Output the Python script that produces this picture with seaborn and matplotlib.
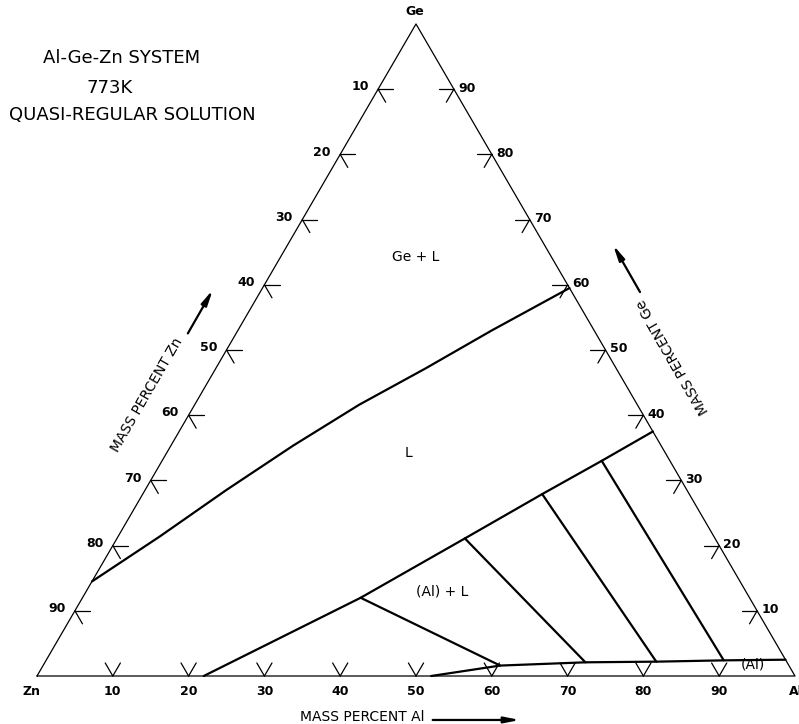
import numpy as np
import pandas as pd
import matplotlib.pyplot as plt
import seaborn as sns

# Al-Ge-Zn isothermal section, 773 K. Values are mass percent (Zn = balance).
tick_values = [10, 20, 30, 40, 50, 60, 70, 80, 90]

# Ge + L / L boundary
ge_l_al = [0.0, 5.5, 10.7, 16.1, 21.7, 27.7, 33.5, 40.5]
ge_l_ge = [14.5, 21.4, 28.5, 35.3, 41.6, 47.2, 53.0, 59.5]

# L / (Al) + L boundary (liquidus)
liq_al = [22.0, 36.7, 45.9, 52.7, 58.0, 62.5]
liq_ge = [0.0, 12.0, 21.1, 27.9, 33.0, 37.5]

# (Al) + L / (Al) boundary (solidus)
sol_al = [52.0, 60.3, 71.3, 80.6, 89.4, 97.5]
sol_ge = [0.0, 1.6, 2.1, 2.2, 2.4, 2.5]

# tie lines: liquidus end -> solidus end
tie_liq_al = [36.7, 45.9, 52.7, 58.0]
tie_liq_ge = [12.0, 21.1, 27.9, 33.0]
tie_sol_al = [60.3, 71.3, 80.6, 89.4]
tie_sol_ge = [1.6, 2.1, 2.2, 2.4]

H = np.sqrt(3) / 2


def tern(al, ge):
    """Mass percent Al, Ge -> cartesian x, y (Zn at origin, Al at x=100)."""
    al = np.asarray(al, dtype=float)
    ge = np.asarray(ge, dtype=float)
    return al + ge / 2, ge * H


def build_frame():
    rows = []
    curves = {'ge_l': (ge_l_al, ge_l_ge), 'liq': (liq_al, liq_ge),
              'sol': (sol_al, sol_ge)}
    for i in range(len(tie_liq_al)):
        curves[f'tie{i}'] = ([tie_liq_al[i], tie_sol_al[i]],
                             [tie_liq_ge[i], tie_sol_ge[i]])
    for name, (al, ge) in curves.items():
        x, y = tern(al, ge)
        for xi, yi in zip(x, y):
            rows.append({'curve': name, 'x': xi, 'y': yi})
    return pd.DataFrame(rows)


sns.set_style('white')
plt.rcParams['font.family'] = ['DejaVu Sans']
plt.rcParams['text.color'] = 'black'

fig = plt.figure(figsize=(7.99, 7.24), dpi=100)
ax = fig.add_axes([0, 0, 1, 1])
ax.set_xlim(-4.881, 100.528)
ax.set_ylim(-6.375, 89.786)
ax.axis('off')

# triangle frame
cx, cy = tern([0, 100, 0, 0], [0, 0, 100, 0])
ax.plot(cx, cy, color='black', lw=0.9)

# phase boundaries and tie lines
df = build_frame()
sns.lineplot(data=df, x='x', y='y', units='curve', estimator=None,
             sort=False, color='black', lw=1.6, ax=ax, legend=False)

# edge ticks
L = 2.0
tick_font = dict(ha='center', va='center', fontsize=9, fontweight='bold')
for v in tick_values:
    # bottom (Al)
    x0, y0 = tern(v, 0)
    for dx, dy in [(-0.5, H), (0.5, H)]:
        ax.plot([x0, x0 + L * dx], [y0, y0 + L * dy], color='black', lw=0.9)
    ax.text(x0, y0 - 2.1, str(v), **tick_font)
    # left (Zn)
    x0, y0 = tern(0, 100 - v)
    for dx, dy in [(1, 0), (0.5, -H)]:
        ax.plot([x0, x0 + L * dx], [y0, y0 + L * dy], color='black', lw=0.9)
    ax.text(x0 - 2.4, y0 + 0.3, str(v), **tick_font)
    # right (Ge)
    x0, y0 = tern(100 - v, v)
    for dx, dy in [(-1, 0), (-0.5, -H)]:
        ax.plot([x0, x0 + L * dx], [y0, y0 + L * dy], color='black', lw=0.9)
    ax.text(x0 + 1.7, y0 + 0.15, str(v), **tick_font)

# corner labels
ax.text(-0.7, -2.1, 'Zn', **tick_font)
ax.text(99.2, -2.1, 'Al', ha='left', va='center', fontsize=9, fontweight='bold')
ax.text(49.9, 88.3, 'Ge', **tick_font)

# axis titles with arrows
arrow = dict(arrowstyle='-|>,head_length=0.9,head_width=0.18',
             color='black', lw=1.6, shrinkA=0, shrinkB=0)
ax.text(42.9, -5.45, 'MASS PERCENT Al', ha='center', va='center', fontsize=10)
ax.annotate('', xy=(63.7, -5.84), xytext=(52.2, -5.84), arrowprops=arrow)
ax.text(14.45, 37.3, 'MASS PERCENT Zn', ha='center', va='center',
        fontsize=10, rotation=60, rotation_mode='anchor')
ax.annotate('', xy=(23.2, 51.3), xytext=(19.9, 45.5), arrowprops=arrow)
ax.text(83.9, 42.4, 'MASS PERCENT Ge', ha='center', va='center',
        fontsize=10, rotation=120, rotation_mode='anchor')
ax.annotate('', xy=(76.0, 57.25), xytext=(79.55, 51.0), arrowprops=arrow)

# phase field labels
ax.text(49.9, 55.65, 'Ge + L', ha='center', va='center', fontsize=10)
ax.text(49.0, 29.6, 'L', ha='center', va='center', fontsize=10)
ax.text(53.4, 11.2, '(Al) + L', ha='center', va='center', fontsize=10)
ax.text(94.4, 1.55, '(Al)', ha='center', va='center', fontsize=10)

# title block
ax.text(11.1, 82.1, 'Al-Ge-Zn SYSTEM', ha='center', va='center', fontsize=13)
ax.text(9.6, 78.1, '773K', ha='center', va='center', fontsize=13)
ax.text(12.6, 74.5, 'QUASI-REGULAR SOLUTION', ha='center', va='center',
        fontsize=13)

fig.savefig('out.png', dpi=100, facecolor='white')
